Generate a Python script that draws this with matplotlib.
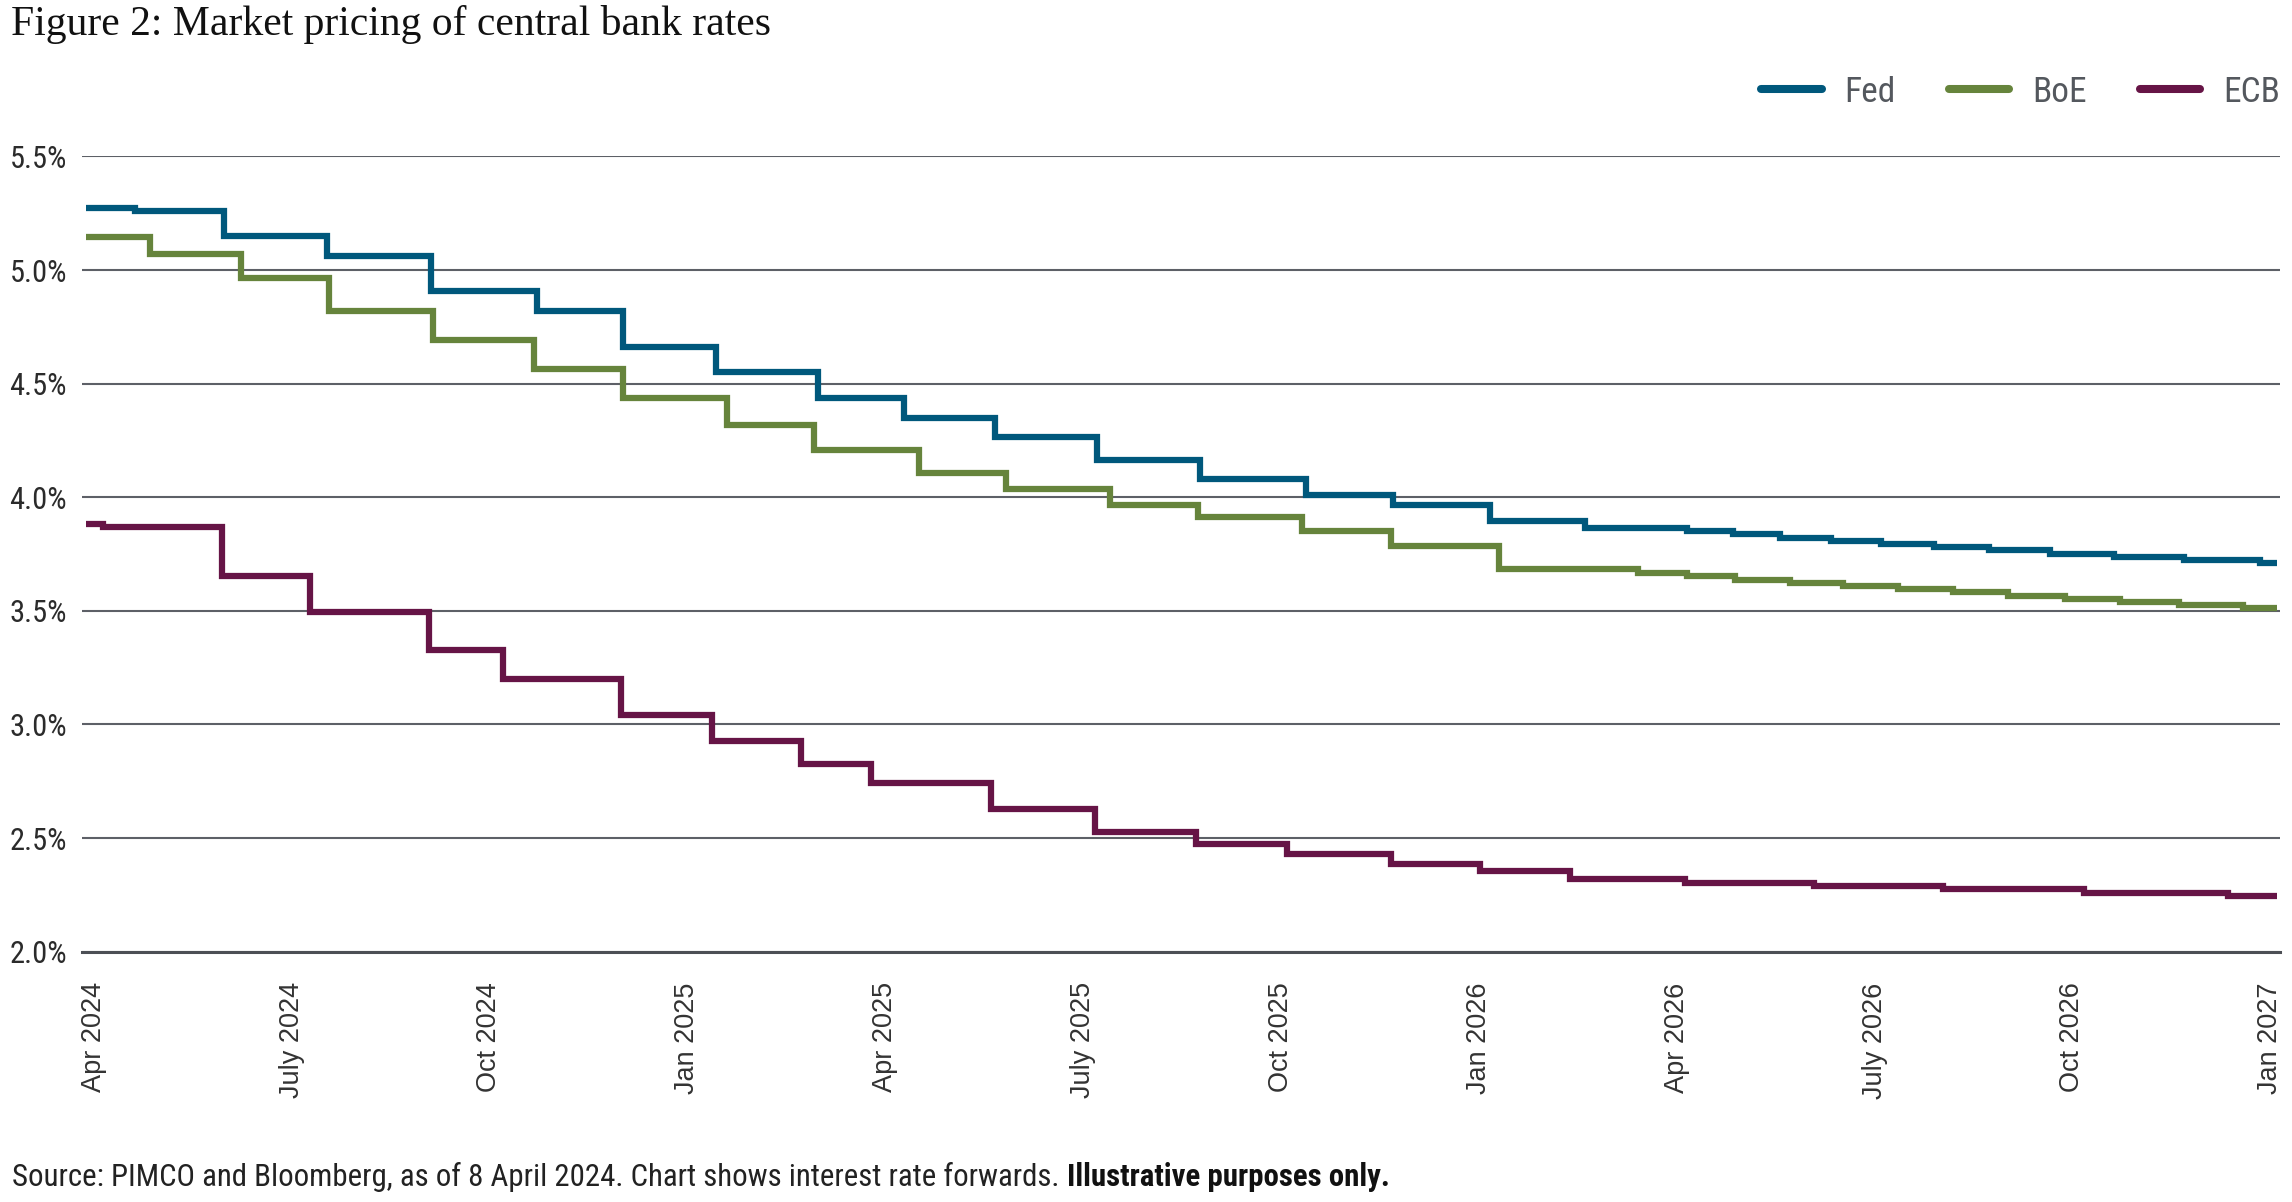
import numpy as np
import pandas as pd
import matplotlib
matplotlib.use('Agg')
import matplotlib.pyplot as plt
import matplotlib.dates as mdates
from matplotlib import font_manager
from matplotlib.lines import Line2D

# Step dates (day a new forward level starts) and levels, %
fed_dates = ['2024-04-08', '2024-05-01', '2024-06-12', '2024-07-31', '2024-09-18', '2024-11-07',
             '2024-12-18', '2025-01-31', '2025-03-20', '2025-04-30', '2025-06-12', '2025-07-30',
             '2025-09-17', '2025-11-06', '2025-12-17', '2026-02-01', '2026-03-18', '2026-05-05',
             '2026-05-27', '2026-06-18', '2026-07-12', '2026-08-05', '2026-08-30', '2026-09-25',
             '2026-10-24', '2026-11-23', '2026-12-26', '2027-01-31']
fed_rates = [5.274, 5.260, 5.148, 5.060, 4.906, 4.818,
             4.663, 4.550, 4.436, 4.350, 4.266, 4.164,
             4.080, 4.012, 3.965, 3.896, 3.864, 3.851,
             3.837, 3.822, 3.809, 3.795, 3.780, 3.767,
             3.752, 3.738, 3.726, 3.710]

boe_dates = ['2024-04-08', '2024-05-08', '2024-06-20', '2024-08-01', '2024-09-19', '2024-11-06',
             '2024-12-18', '2025-02-05', '2025-03-18', '2025-05-07', '2025-06-17', '2025-08-05',
             '2025-09-16', '2025-11-04', '2025-12-16', '2026-02-05', '2026-04-12', '2026-05-05',
             '2026-05-28', '2026-06-23', '2026-07-18', '2026-08-13', '2026-09-08', '2026-10-04',
             '2026-10-31', '2026-11-26', '2026-12-24', '2027-01-23']
boe_rates = [5.147, 5.072, 4.964, 4.819, 4.690, 4.566,
             4.436, 4.320, 4.208, 4.105, 4.037, 3.966,
             3.911, 3.852, 3.784, 3.684, 3.667, 3.653,
             3.638, 3.624, 3.609, 3.596, 3.581, 3.566,
             3.552, 3.538, 3.524, 3.512]

ecb_dates = ['2024-04-08', '2024-04-16', '2024-06-11', '2024-07-23', '2024-09-17', '2024-10-22',
             '2024-12-17', '2025-01-29', '2025-03-12', '2025-04-14', '2025-06-10', '2025-07-29',
             '2025-09-15', '2025-10-28', '2025-12-16', '2026-01-27', '2026-03-11', '2026-05-04',
             '2026-07-04', '2026-09-03', '2026-11-09', '2027-01-16']
ecb_rates = [3.882, 3.868, 3.653, 3.497, 3.328, 3.200,
             3.041, 2.926, 2.828, 2.741, 2.629, 2.528,
             2.472, 2.428, 2.387, 2.357, 2.319, 2.303,
             2.290, 2.276, 2.260, 2.246]

end_date = '2027-02-08'

series_names = ['Fed', 'BoE', 'ECB']
series_colors = ['#00587c', '#66843c', '#661446']

x_labels = ['Apr 2024', 'July 2024', 'Oct 2024', 'Jan 2025', 'Apr 2025', 'July 2025',
            'Oct 2025', 'Jan 2026', 'Apr 2026', 'July 2026', 'Oct 2026', 'Jan 2027']
y_ticks = [2.0, 2.5, 3.0, 3.5, 4.0, 4.5, 5.0, 5.5]

title = 'Figure 2: Market pricing of central bank rates'
source = 'Source: PIMCO and Bloomberg, as of 8 April 2024. Chart shows interest rate forwards. '
source_bold = 'Illustrative purposes only.'

# narrow sans if installed
available = {f.name for f in font_manager.fontManager.ttflist}
narrow = next((f for f in ['Roboto Condensed', 'Liberation Sans Narrow', 'DejaVu Sans Condensed']
               if f in available), 'Roboto')

fig = plt.figure(figsize=(22.92, 12.02), dpi=100)
ax = fig.add_axes([0.0356, 0.2082, 0.959, 0.6617])

all_dates = [fed_dates, boe_dates, ecb_dates]
all_rates = [fed_rates, boe_rates, ecb_rates]
for dates, rates, name, col in zip(all_dates, all_rates, series_names, series_colors):
    x = pd.to_datetime(dates + [end_date])
    y = rates + [rates[-1]]
    ax.step(x, y, where='post', color=col, lw=4.5, label=name,
            solid_capstyle='butt', solid_joinstyle='miter', zorder=3)

start = pd.Timestamp(fed_dates[0])
end = pd.Timestamp(end_date)
ax.set_xlim(start - pd.Timedelta(days=2.2), end + pd.Timedelta(days=1.4))
ax.set_ylim(2.0, 5.5)

# labels sit evenly across the range in the original
tick_pos = np.linspace(mdates.date2num(start + pd.Timedelta(days=3.5)),
                       mdates.date2num(end - pd.Timedelta(days=3.0)), len(x_labels))
ax.set_xticks(tick_pos)
ax.set_xticklabels(x_labels, rotation=90, fontfamily='Liberation Sans', fontsize=19.5, color='#333333')
ax.set_yticks(y_ticks)
ax.set_yticklabels([f'{v:.1f}%' for v in y_ticks], fontfamily=narrow, fontsize=22, color='#2b2b2b')
ax.tick_params(axis='x', length=0, pad=22)
ax.tick_params(axis='y', length=0, pad=10.5)

ax.grid(axis='y', color='#5d6067', lw=1.5, zorder=1)
for s in ['top', 'right', 'left']:
    ax.spines[s].set_visible(False)
ax.spines['bottom'].set_color('#4c4f55')
ax.spines['bottom'].set_linewidth(2.2)

handles = [Line2D([0], [0], color=c, lw=5.8, solid_capstyle='round') for c in series_colors]
fig.legend(handles, series_names, loc='center right', bbox_to_anchor=(2280 / 2292, 1 - 92 / 1202),
           ncol=3, frameon=False, handlelength=1.7, handletextpad=0.65, columnspacing=1.5,
           borderpad=0, borderaxespad=0,
           prop={'family': narrow, 'size': 25.5}, labelcolor='#54585e')

fig.text(11 / 2292, 1 - 25 / 1202, title, fontfamily='Liberation Serif', fontsize=30,
         va='center', ha='left', color='#111111')

renderer = fig.canvas.get_renderer()
t1 = fig.text(12 / 2292, 1 - 1177 / 1202, source, fontfamily=narrow, fontsize=22.2,
              va='center', ha='left', color='#222222')
bb = t1.get_window_extent(renderer)
fig.text(bb.x1 / fig.bbox.width, 1 - 1177 / 1202, source_bold, fontfamily=narrow, fontsize=22.2,
         fontweight='bold', va='center', ha='left', color='#111111')

fig.savefig('out.png', dpi=100)
